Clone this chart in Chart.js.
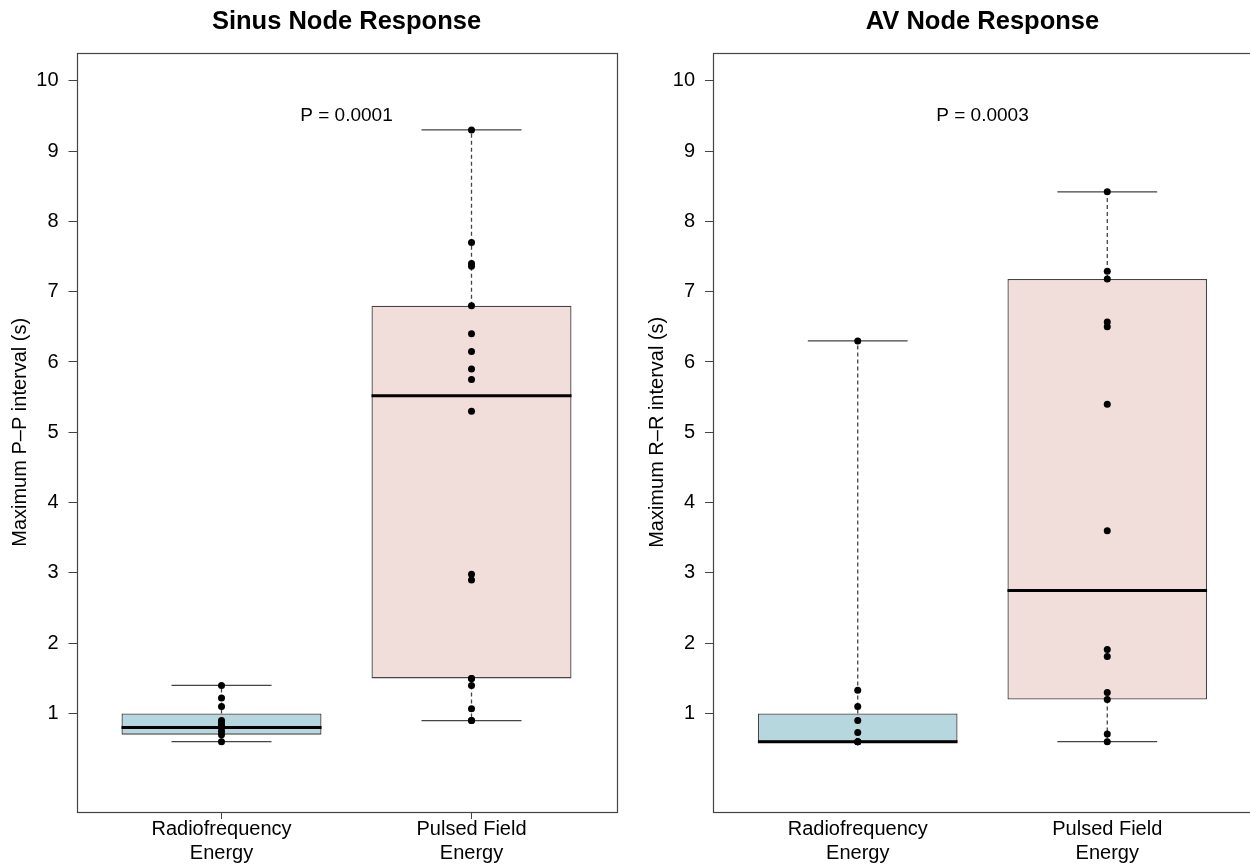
<!DOCTYPE html>
<html>
<head>
<meta charset="utf-8">
<script src="https://cdn.jsdelivr.net/npm/chart.js@4"></script>
<style>
  html, body { margin: 0; padding: 0; background: #fff; overflow: hidden; }
  #wrap { position: relative; width: 1250px; height: 864px; overflow: hidden; }
  #c1 { position: absolute; left: 0; top: 0; }
  #c2 { position: absolute; left: 640px; top: 0; }
</style>
</head>
<body>
<div id="wrap">
  <canvas id="c1" width="640" height="864"></canvas>
  <canvas id="c2" width="640" height="864"></canvas>
</div>
<script>
      // Data block
      const categories = [['Radiofrequency', 'Energy'], ['Pulsed Field', 'Energy']];
      const groupX = [1, 2];
      const yTicks = [1, 2, 3, 4, 5, 6, 7, 8, 9, 10];

      // individual measurements (s)
      const sinusRF = [1.4, 1.22, 1.1, 0.9, 0.87, 0.83, 0.8, 0.75, 0.7, 0.6];
      const sinusPF = [9.3, 7.7, 7.4, 7.36, 6.8, 6.4, 6.15, 5.9, 5.75, 5.3, 2.98, 2.9, 1.5, 1.5, 1.4, 1.07, 0.9, 0.9];
      const avRF = [6.3, 1.33, 1.1, 0.9, 0.73, 0.6, 0.6, 0.6];
      const avPF = [8.42, 7.29, 7.18, 6.57, 6.5, 5.4, 3.6, 1.91, 1.81, 1.3, 1.2, 0.71, 0.6];

      // box stats: low whisker, q1, median, q3, high whisker
      const sinusRFBox = [0.6, 0.7, 0.8, 1.0, 1.4];
      const sinusPFBox = [0.9, 1.5, 5.52, 6.8, 9.3];
      const avRFBox = [0.6, 0.6, 0.6, 1.0, 6.3];
      const avPFBox = [0.6, 1.2, 2.75, 7.18, 8.42];

      const pLabels = ['P = 0.0001', 'P = 0.0003'];
      const pAt = [1.5, 9.5];

      const boxColors = ['#b7d7de', '#f1ddd9'];
      const lineGrey = '#444';

      Chart.defaults.font.family = '"Liberation Sans", Arial, Helvetica, sans-serif';
      Chart.defaults.color = '#000';

      function makeDatasets(points, stats) {
        const whisk = [];
        const caps = [];
        const meds = [];
        groupX.forEach((x, i) => {
          const s = stats[i];
          whisk.push({x: x, y: s[3]}, {x: x, y: s[4]}, {x: x, y: null},
                     {x: x, y: s[1]}, {x: x, y: s[0]}, {x: x, y: null});
          caps.push({x: x - 0.2, y: s[0]}, {x: x + 0.2, y: s[0]}, {x: x, y: null},
                    {x: x - 0.2, y: s[4]}, {x: x + 0.2, y: s[4]}, {x: x, y: null});
          meds.push({x: x - 0.4, y: s[2]}, {x: x + 0.4, y: s[2]}, {x: x, y: null});
        });
        const dots = [];
        points.forEach((arr, i) => arr.forEach(v => dots.push({x: groupX[i], y: v})));

        return [
          {
            type: 'bar',
            data: groupX.map((x, i) => ({x: x, y: [stats[i][1], stats[i][3]]})),
            backgroundColor: boxColors,
            borderColor: lineGrey,
            borderWidth: 1.3,
            borderSkipped: false,
            barPercentage: 0.8,
            categoryPercentage: 1,
            order: 4
          },
          {
            type: 'line', data: whisk, borderColor: lineGrey, borderWidth: 1.3,
            borderDash: [4, 3], pointRadius: 0, spanGaps: false, fill: false, order: 3
          },
          {
            type: 'line', data: caps, borderColor: lineGrey, borderWidth: 1.3,
            pointRadius: 0, spanGaps: false, fill: false, order: 2
          },
          {
            type: 'line', data: meds, borderColor: '#000', borderWidth: 3,
            pointRadius: 0, spanGaps: false, fill: false, order: 1
          },
          {
            type: 'scatter', data: dots, backgroundColor: '#000', borderWidth: 0,
            pointRadius: 3.5, order: 0
          }
        ];
      }

      // box round the plot area + title over the plot area
      const framePlugin = {
        id: 'frame',
        afterDraw: (chart, args, opts) => {
          const a = chart.chartArea;
          const ctx = chart.ctx;
          ctx.save();
          ctx.strokeStyle = lineGrey;
          ctx.lineWidth = 1.2;
          ctx.strokeRect(Math.round(a.left) + 0.5, Math.round(a.top) + 0.5,
                         Math.round(a.right - a.left), Math.round(a.bottom - a.top));
          ctx.font = 'bold 25.5px "Liberation Sans", Arial, sans-serif';
          ctx.fillStyle = '#000';
          ctx.textAlign = 'center';
          ctx.textBaseline = 'middle';
          ctx.fillText(opts.title, (a.left + a.right) / 2, 22);
          ctx.restore();
        }
      };

      // P value text
      const pPlugin = {
        id: 'pvalue',
        afterDatasetsDraw: (chart, args, opts) => {
          const ctx = chart.ctx;
          ctx.save();
          ctx.font = '19px "Liberation Sans", Arial, sans-serif';
          ctx.fillStyle = '#000';
          ctx.textAlign = 'center';
          ctx.textBaseline = 'middle';
          ctx.fillText(opts.text, chart.scales.x.getPixelForValue(pAt[0]),
                       chart.scales.y.getPixelForValue(pAt[1]));
          ctx.restore();
        }
      };

      function makeConfig(title, yTitle, datasets, pText, o) {
        return {
          type: 'bar',
          data: {datasets: datasets},
          options: {
            responsive: false,
            animation: false,
            layout: {padding: {left: 0, right: o.padRight, top: 52.6, bottom: 0}},
            plugins: {
              legend: {display: false},
              tooltip: {enabled: false},
              title: {display: false},
              pvalue: {text: pText},
              frame: {title: title}
            },
            scales: {
              x: {
                type: 'linear', min: 0.42, max: 2.58, offset: false,
                afterBuildTicks: (a) => { a.ticks = groupX.map(v => ({value: v})); },
                afterFit: (a) => { a.height = 52; },
                ticks: {
                  callback: (v) => categories[groupX.indexOf(v)],
                  font: {size: 20}, padding: o.xPad, maxRotation: 0, autoSkip: false
                },
                grid: {drawOnChartArea: false, drawTicks: o.xTicks, tickLength: 7, color: lineGrey, offset: false},
                border: {display: false}
              },
              y: {
                type: 'linear', min: -0.4, max: 10.4,
                afterBuildTicks: (a) => { a.ticks = yTicks.map(v => ({value: v})); },
                afterFit: (a) => { a.width = o.yWidth; },
                ticks: {font: {size: 20}, padding: 10},
                grid: {drawOnChartArea: false, tickLength: 8, color: lineGrey},
                border: {display: false},
                title: {
                  display: true, text: yTitle, font: {size: 20},
                  padding: {top: o.yTitlePad, bottom: 0}
                }
              }
            }
          },
          plugins: [framePlugin, pPlugin]
        };
      }

      const config1 = makeConfig('Sinus Node Response', 'Maximum P\u2013P interval (s)',
        makeDatasets([sinusRF, sinusPF], [sinusRFBox, sinusPFBox]), pLabels[0],
        {padRight: 23.5, yWidth: 76.5, yTitlePad: 8, xPad: -2, xTicks: true});

      const config2 = makeConfig('AV Node Response', 'Maximum R\u2013R interval (s)',
        makeDatasets([avRF, avPF], [avRFBox, avPFBox]), pLabels[1],
        {padRight: 28, yWidth: 73, yTitlePad: 5, xPad: 5, xTicks: false});

      // Render block
      const myChart = new Chart(document.getElementById('c1'), config1);
      const myChart2 = new Chart(document.getElementById('c2'), config2);
</script>
</body>
</html>
